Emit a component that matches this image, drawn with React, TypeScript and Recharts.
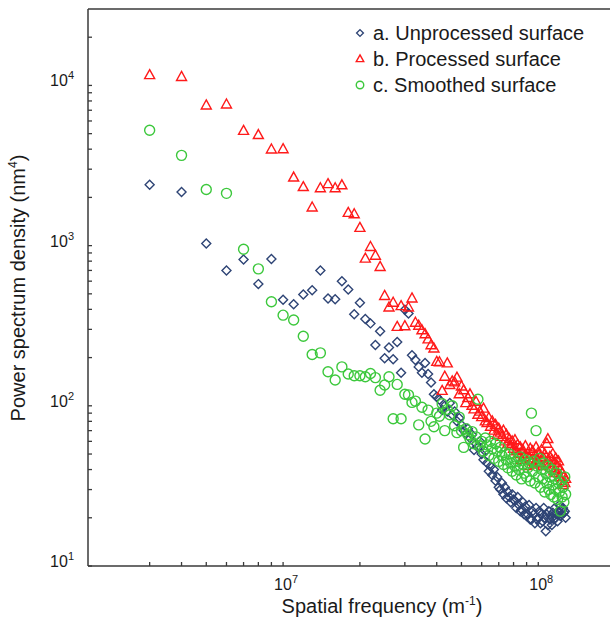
import { Legend, ReferenceLine, Scatter, ScatterChart, XAxis, YAxis } from 'recharts'

// frequency bins: n * 1e6 m^-1, starting at n = 3
const FIRST_BIN = 3
const BIN_WIDTH = 1e6

const unprocessed = [
  2400, 2160, 1030, 700, 820, 575, 825, 460, 430, 495,
  527, 700, 468, 463, 600, 532, 373, 440, 348, 327,
  240, 292, 198, 231, 195, 250, 161, 398, 377, 207,
  193, 175, 161, 185, 158, 140, 118, 114, 109, 94,
  100, 92, 104, 88, 92, 80, 84, 76, 70, 67,
  72, 63, 66, 53, 58, 55, 60, 50, 46, 52,
  44, 39, 42, 37, 40, 34, 36, 31, 30, 33,
  28, 31, 26.5, 29, 27, 25, 28, 26, 25.5, 23,
  27, 24, 22, 22.5, 25, 21, 23.5, 20.5, 21, 24,
  19.5, 19.5, 22, 21, 18.5, 23, 19.5, 20, 22, 18.5,
  21, 19, 23, 20, 16.5, 21, 18, 22, 19.5, 20.5,
  18, 21.5, 19.5, 23, 20, 21, 19, 22, 24, 20.5,
  22.5, 21, 23, 21.5, 22, 20,
]

const processed = [
  11600, 11300, 7500, 7600, 5200, 4900, 3980, 4000, 2660, 2320,
  1730, 2280, 2420, 2280, 2380, 1600, 1570, 1290, 830, 980,
  865, 736, 485, 411, 440, 311, 419, 314, 411, 468,
  330, 316, 296, 280, 260, 239, 228, 188, 187, 124,
  152, 184, 135, 142, 140, 150, 118, 132, 125, 104,
  112, 118, 100, 95, 106, 88, 92, 85, 96, 80,
  78, 84, 74, 80, 70, 76, 66, 72, 68, 64,
  70, 60, 66, 58, 62, 56, 60, 54, 61, 52,
  57, 50, 55, 46, 53, 48, 56, 42, 50, 47,
  54, 45, 52, 43, 49, 55, 46, 51, 44, 48,
  53, 42, 47, 50, 43, 58, 62, 45, 48, 41,
  46, 50, 39, 44, 47, 38, 42, 45, 36, 40,
  34, 38, 32, 36, 33, 35,
]

const smoothed = [
  5250, 3660, 2240, 2120, 950, 716, 446, 368, 343, 272,
  209, 214, 163, 145, 175, 158, 154, 154, 152, 159,
  150, 125, 135, 152, 83, 136, 83, 118, 117, 105,
  107, 76, 98, 62, 94, 80, 74, 90, 86, 103,
  70, 95, 88, 100, 75, 68, 85, 70, 55, 72,
  66, 62, 69, 58, 64, 110, 56, 60, 52, 63,
  57, 49, 60, 54, 47, 58, 52, 45, 55, 49,
  43, 51, 46, 41, 50, 44, 39, 47, 42, 37,
  45, 40, 48, 35, 43, 38, 46, 36, 41, 44,
  34, 90, 39, 45, 33, 70, 42, 36, 47, 31,
  40, 35, 44, 29, 38, 33, 42, 30, 36, 28,
  40, 32, 27, 35, 30, 38, 26, 33, 29, 22,
  34, 27, 31, 25, 36, 28,
]

const X_TICKS = [
  3e6, 4e6, 5e6, 6e6, 7e6, 8e6, 9e6,
  1e7, 2e7, 3e7, 4e7, 5e7, 6e7, 7e7, 8e7, 9e7,
  1e8,
]
const Y_TICKS = [
  10, 20, 30, 40, 50, 60, 70, 80, 90,
  100, 200, 300, 400, 500, 600, 700, 800, 900,
  1000, 2000, 3000, 4000, 5000, 6000, 7000, 8000, 9000,
  10000, 20000,
]

const FONT = '"Liberation Sans", Arial, sans-serif'
const INK = '#1a1a1a'
const AXIS = '#3a3a3a'

type Kind = 'diamond' | 'triangle' | 'circle'

const SERIES: Array<{ name: string; color: string; kind: Kind; values: number[] }> = [
  { name: 'a. Unprocessed surface', color: '#2e4475', kind: 'diamond', values: unprocessed },
  { name: 'b. Processed surface', color: '#ff1a1a', kind: 'triangle', values: processed },
  { name: 'c. Smoothed surface', color: '#3cc83c', kind: 'circle', values: smoothed },
]

const toPoints = (values: number[]) =>
  values.map((psd, i) => ({ freq: (FIRST_BIN + i) * BIN_WIDTH, psd }))

function Marker({ cx, cy, kind, color, s = 1 }: { cx: number; cy: number; kind: Kind; color: string; s?: number }) {
  const common = { fill: 'none', stroke: color, strokeWidth: 1.4 }
  if (kind === 'diamond') {
    const r = 4.5 * s
    return <polygon points={`${cx},${cy - r} ${cx + r},${cy} ${cx},${cy + r} ${cx - r},${cy}`} {...common} />
  }
  if (kind === 'triangle') {
    const w = 5 * s
    return (
      <polygon
        points={`${cx},${cy - 5.5 * s} ${cx + w},${cy + 3.5 * s} ${cx - w},${cy + 3.5 * s}`}
        {...common}
      />
    )
  }
  return <circle cx={cx} cy={cy} r={5 * s} {...common} />
}

const isDecade = (v: number) => Math.abs(Math.log10(v) - Math.round(Math.log10(v))) < 1e-9

function XTick(props: any) {
  const { x, y, payload } = props
  const v = payload.value
  return (
    <g>
      <line x1={x} y1={y} x2={x} y2={y - 4} stroke={AXIS} strokeWidth={1.3} />
      {isDecade(v) && (
        <text x={x - 9} y={y + 24} fontSize={16} fill={INK} fontFamily={FONT}>
          10
          <tspan dy={-7} fontSize={11}>
            {Math.round(Math.log10(v))}
          </tspan>
        </text>
      )}
    </g>
  )
}

function YTick(props: any) {
  const { x, y, payload } = props
  const v = payload.value
  return (
    <g>
      <line x1={x} y1={y} x2={x + 4} y2={y} stroke={AXIS} strokeWidth={1.3} />
      {isDecade(v) && (
        <text x={x - 14} y={y + 1} fontSize={16} fill={INK} fontFamily={FONT} textAnchor="end">
          10
          <tspan dy={-7} fontSize={11}>
            {Math.round(Math.log10(v))}
          </tspan>
        </text>
      )}
    </g>
  )
}

function LegendBox() {
  return (
    <div style={{ fontFamily: FONT, fontSize: 20, color: INK }}>
      {SERIES.map((s) => (
        <div key={s.name} style={{ display: 'flex', alignItems: 'center', height: 26 }}>
          <svg width={16} height={16} style={{ marginRight: 5 }}>
            <Marker cx={8} cy={8} kind={s.kind} color={s.color} s={0.75} />
          </svg>
          <span>{s.name}</span>
        </div>
      ))}
    </div>
  )
}

export default function App() {
  return (
    <div style={{ position: 'absolute', left: 0, top: 0, width: 610, height: 621, background: '#fff' }}>
      <ScatterChart width={610} height={621} margin={{ top: 9, right: 0, bottom: 25, left: 28 }}>
        <XAxis
          type="number"
          dataKey="freq"
          scale="log"
          domain={[1.72e6, 1.91e8]}
          allowDataOverflow
          ticks={X_TICKS}
          interval={0}
          tickSize={0}
          tickMargin={0}
          height={30}
          axisLine={{ stroke: AXIS, strokeWidth: 1.5 }}
          tickLine={false}
          tick={<XTick />}
          label={{
            content: () => (
              <text x={382} y={613} textAnchor="middle" fontSize={20} fill={INK} fontFamily={FONT}>
                Spatial frequency (m
                <tspan dy={-8} fontSize={12}>-1</tspan>
                <tspan dy={8}>)</tspan>
              </text>
            ),
          }}
        />
        <YAxis
          type="number"
          dataKey="psd"
          scale="log"
          domain={[10, 30000]}
          allowDataOverflow
          ticks={Y_TICKS}
          interval={0}
          tickSize={0}
          tickMargin={0}
          width={60}
          axisLine={{ stroke: AXIS, strokeWidth: 1.5 }}
          tickLine={false}
          tick={<YTick />}
          label={{
            content: () => (
              <text
                transform="rotate(-90)"
                x={-288}
                y={25}
                textAnchor="middle"
                fontSize={20}
                fill={INK}
                fontFamily={FONT}
              >
                Power spectrum density (nm
                <tspan dy={-8} fontSize={12}>4</tspan>
                <tspan dy={8}>)</tspan>
              </text>
            ),
          }}
        />
        <ReferenceLine y={30000} stroke={AXIS} strokeWidth={1.5} />
        {SERIES.map((s) => (
          <Scatter
            key={s.name}
            name={s.name}
            data={toPoints(s.values)}
            isAnimationActive={false}
            shape={(p: any) => <Marker cx={p.cx} cy={p.cy} kind={s.kind} color={s.color} />}
          />
        ))}
        <Legend
          layout="vertical"
          align="center"
          verticalAlign="middle"
          wrapperStyle={{ top: 20, left: 352, width: 258 }}
          content={() => <LegendBox />}
        />
      </ScatterChart>
    </div>
  )
}
